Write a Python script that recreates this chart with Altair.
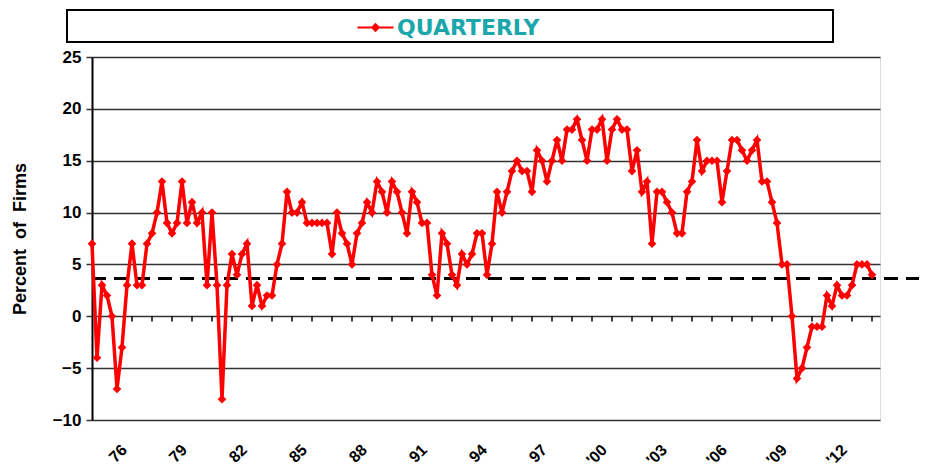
import json
import altair as alt
import pandas as pd

# ---------------- data ----------------
start_year = 1974
quarter_step = 0.25
values = [
    7, -4, 3, 2, 0, -7, -3, 3, 7, 3,
    3, 7, 8, 10, 13, 9, 8, 9, 13, 9,
    11, 9, 10, 3, 10, 3, -8, 3, 6, 4,
    6, 7, 1, 3, 1, 2, 2, 5, 7, 12,
    10, 10, 11, 9, 9, 9, 9, 9, 6, 10,
    8, 7, 5, 8, 9, 11, 10, 13, 12, 10,
    13, 12, 10, 8, 12, 11, 9, 9, 4, 2,
    8, 7, 4, 3, 6, 5, 6, 8, 8, 4,
    7, 12, 10, 12, 14, 15, 14, 14, 12, 16,
    15, 13, 15, 17, 15, 18, 18, 19, 17, 15,
    18, 18, 19, 15, 18, 19, 18, 18, 14, 16,
    12, 13, 7, 12, 12, 11, 10, 8, 8, 12,
    13, 17, 14, 15, 15, 15, 11, 14, 17, 17,
    16, 15, 16, 17, 13, 13, 11, 9, 5, 5,
    0, -6, -5, -3, -1, -1, -1, 2, 1, 3,
    2, 2, 3, 5, 5, 5, 4,
]
series_name = "QUARTERLY"
average_line = 3.65

label_years = [1976, 1979, 1982, 1985, 1988, 1991, 1994, 1997, 2000, 2003, 2006, 2009, 2012]
label_texts = ["76", "79", "82", "85", "88", "91", "94", "97", "'00", "'03", "'06", "'09", "'12"]
tick_years = list(range(1975, 2014))
y_ticks = [-10, -5, 0, 5, 10, 15, 20, 25]

x_domain = [1974, 2013.4]
y_domain = [-10, 25]

# ---------------- tables ----------------
df = pd.DataFrame({
    "year": [start_year + i * quarter_step for i in range(len(values))],
    "value": values,
    "series": series_name,
})
ticks_df = pd.DataFrame({"year": tick_years})
avg_df = pd.DataFrame({"avg": [average_line]})
box_df = pd.DataFrame({"k": [0]})

label_expr = ""
for yr, txt in zip(label_years, label_texts):
    label_expr += f"datum.value == {yr} ? {json.dumps(txt)} : "
label_expr += "''"

W, H = 788, 363
FONT = "Liberation Sans"
RED = "#FF0000"

x_scale = alt.Scale(domain=x_domain, nice=False, zero=False)
y_scale = alt.Scale(domain=y_domain, nice=False, zero=False)

x_axis = alt.Axis(
    values=label_years, labelExpr=label_expr, labelAngle=-45,
    labelAlign="right", labelBaseline="middle", labelOffset=-8,
    labelFont=FONT, labelFontWeight="bold", labelFontSize=16, labelColor="black",
    ticks=False, domain=False, grid=False, labelPadding=27, title=None,
    labelOverlap=False, labelFlush=False,
)
y_axis = alt.Axis(
    values=y_ticks, grid=True, gridColor="#333333", gridWidth=1.5,
    domain=True, domainColor="black", domainWidth=2,
    ticks=True, tickColor="#333333", tickSize=6, tickWidth=1.5,
    labelFont=FONT, labelFontWeight="bold", labelFontSize=17, labelColor="black",
    labelPadding=5,
    title="Percent\u00a0 of\u00a0 Firms", titleFont=FONT, titleFontSize=18,
    titleFontWeight="bold", titleColor="black", titleX=-63, titlePadding=0,
)

box = alt.Chart(box_df).mark_rect(fill="white", stroke="black", strokeWidth=2).encode(
    x=alt.value(-25), x2=alt.value(741), y=alt.value(-47), y2=alt.value(-15)
)

avg_rule = alt.Chart(avg_df).mark_rule(
    color="black", strokeWidth=3, strokeDash=[14, 8]
).encode(
    y=alt.Y("avg:Q", scale=y_scale, axis=y_axis),
    x=alt.value(0), x2=alt.value(835),
)

tick_rules = alt.Chart(ticks_df).mark_rule(color="black", strokeWidth=1.5).encode(
    x=alt.X("year:Q", scale=x_scale, axis=x_axis),
    y=alt.datum(0), y2=alt.datum(-0.5),
)

line = alt.Chart(df).mark_line(color=RED, strokeWidth=3.5).encode(
    x=alt.X("year:Q", scale=x_scale, axis=x_axis),
    y=alt.Y("value:Q", scale=y_scale, axis=y_axis),
)

legend_symbol = (
    "M-1,-0.06L1,-0.06L1,0.06L-1,0.06Z "
    "M0,-0.26L0.26,0L0,0.26L-0.26,0Z"
)

points = alt.Chart(df).mark_point(shape="diamond", filled=True, size=75, opacity=1).encode(
    x=alt.X("year:Q", scale=x_scale, axis=x_axis),
    y=alt.Y("value:Q", scale=y_scale, axis=y_axis),
    color=alt.Color(
        "series:N",
        scale=alt.Scale(domain=[series_name], range=[RED]),
        legend=alt.Legend(
            orient="none", legendX=265, legendY=-48, title=None,
            labelColor="#1BA6AC", labelFont="DejaVu Sans", labelFontSize=22,
            labelFontWeight="bold", symbolType=legend_symbol, symbolSize=1300,
            symbolStrokeWidth=0, symbolOpacity=1, labelOffset=3, padding=0,
        ),
    ),
)

chart = alt.layer(box, avg_rule, tick_rules, line, points).properties(
    width=W, height=H,
    autosize=alt.AutoSizeParams(type="none"),
    padding={"left": 84, "top": 49, "right": 39, "bottom": 50},
).configure_view(stroke=None).configure(background="white")

chart.save("out.html", embed_options={"renderer": "svg", "actions": False})
